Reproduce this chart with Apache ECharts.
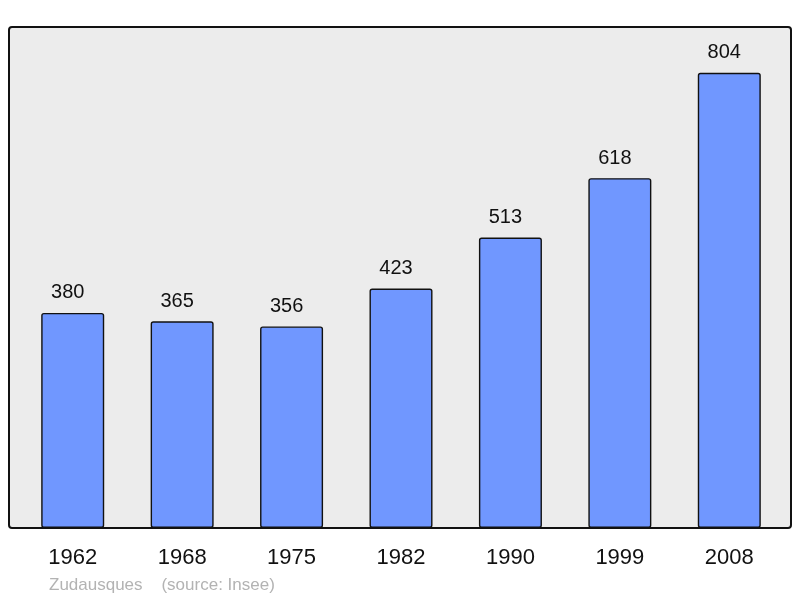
<!DOCTYPE html>
<html lang="fr">
<head>
    <meta charset="UTF-8">
    <title>Zudausques</title>
    <script src="https://cdn.jsdelivr.net/npm/echarts@6/dist/echarts.min.js"></script>
    <style>
        html, body { margin: 0; padding: 0; background: #fff; }
        #chartmain { width: 800px; height: 598px; }
    </style>
</head>
<body>
<div id="chartmain"></div>
<script>
    // données
    var annees = ["1962", "1968", "1975", "1982", "1990", "1999", "2008"];
    var habitants = [380, 365, 356, 423, 513, 618, 804];
    var yMax = 885;

    var myChart = echarts.init(document.getElementById('chartmain'));

    var option = {
        animation: false,
        graphic: [
            {   // cadre gris
                type: 'rect',
                z: -10,
                shape: { x: 9, y: 27, width: 782, height: 501, r: 3 },
                style: { fill: '#ececec', stroke: '#111', lineWidth: 2 }
            },
            {
                type: 'text',
                left: 49,
                top: 577,
                style: {
                    text: 'Zudausques    (source: Insee)',
                    fill: '#b3b3b3',
                    font: '17px "Liberation Sans", Arial, sans-serif'
                }
            }
        ],
        grid: { left: 18, right: 16, top: 27, bottom: 70 },
        xAxis: {
            type: 'category',
            data: annees,
            axisLine: { show: false },
            axisTick: { show: false },
            axisLabel: {
                color: '#111',
                fontSize: 22,
                fontFamily: '"Liberation Sans", Arial, sans-serif',
                margin: 19
            }
        },
        yAxis: {
            type: 'value',
            min: 0,
            max: yMax,
            show: false,
            splitLine: { show: false }
        },
        series: [{
            type: 'bar',
            data: habitants,
            barWidth: 63,
            itemStyle: {
                color: '#7097ff',
                borderColor: '#111',
                borderWidth: 1.4,
                borderRadius: 2
            },
            label: {
                show: true,
                position: 'top',
                distance: 10,
                offset: [-5, 0],
                color: '#111',
                fontSize: 20,
                fontFamily: '"Liberation Sans", Arial, sans-serif'
            }
        }]
    };

    myChart.setOption(option);
</script>
</body>
</html>
